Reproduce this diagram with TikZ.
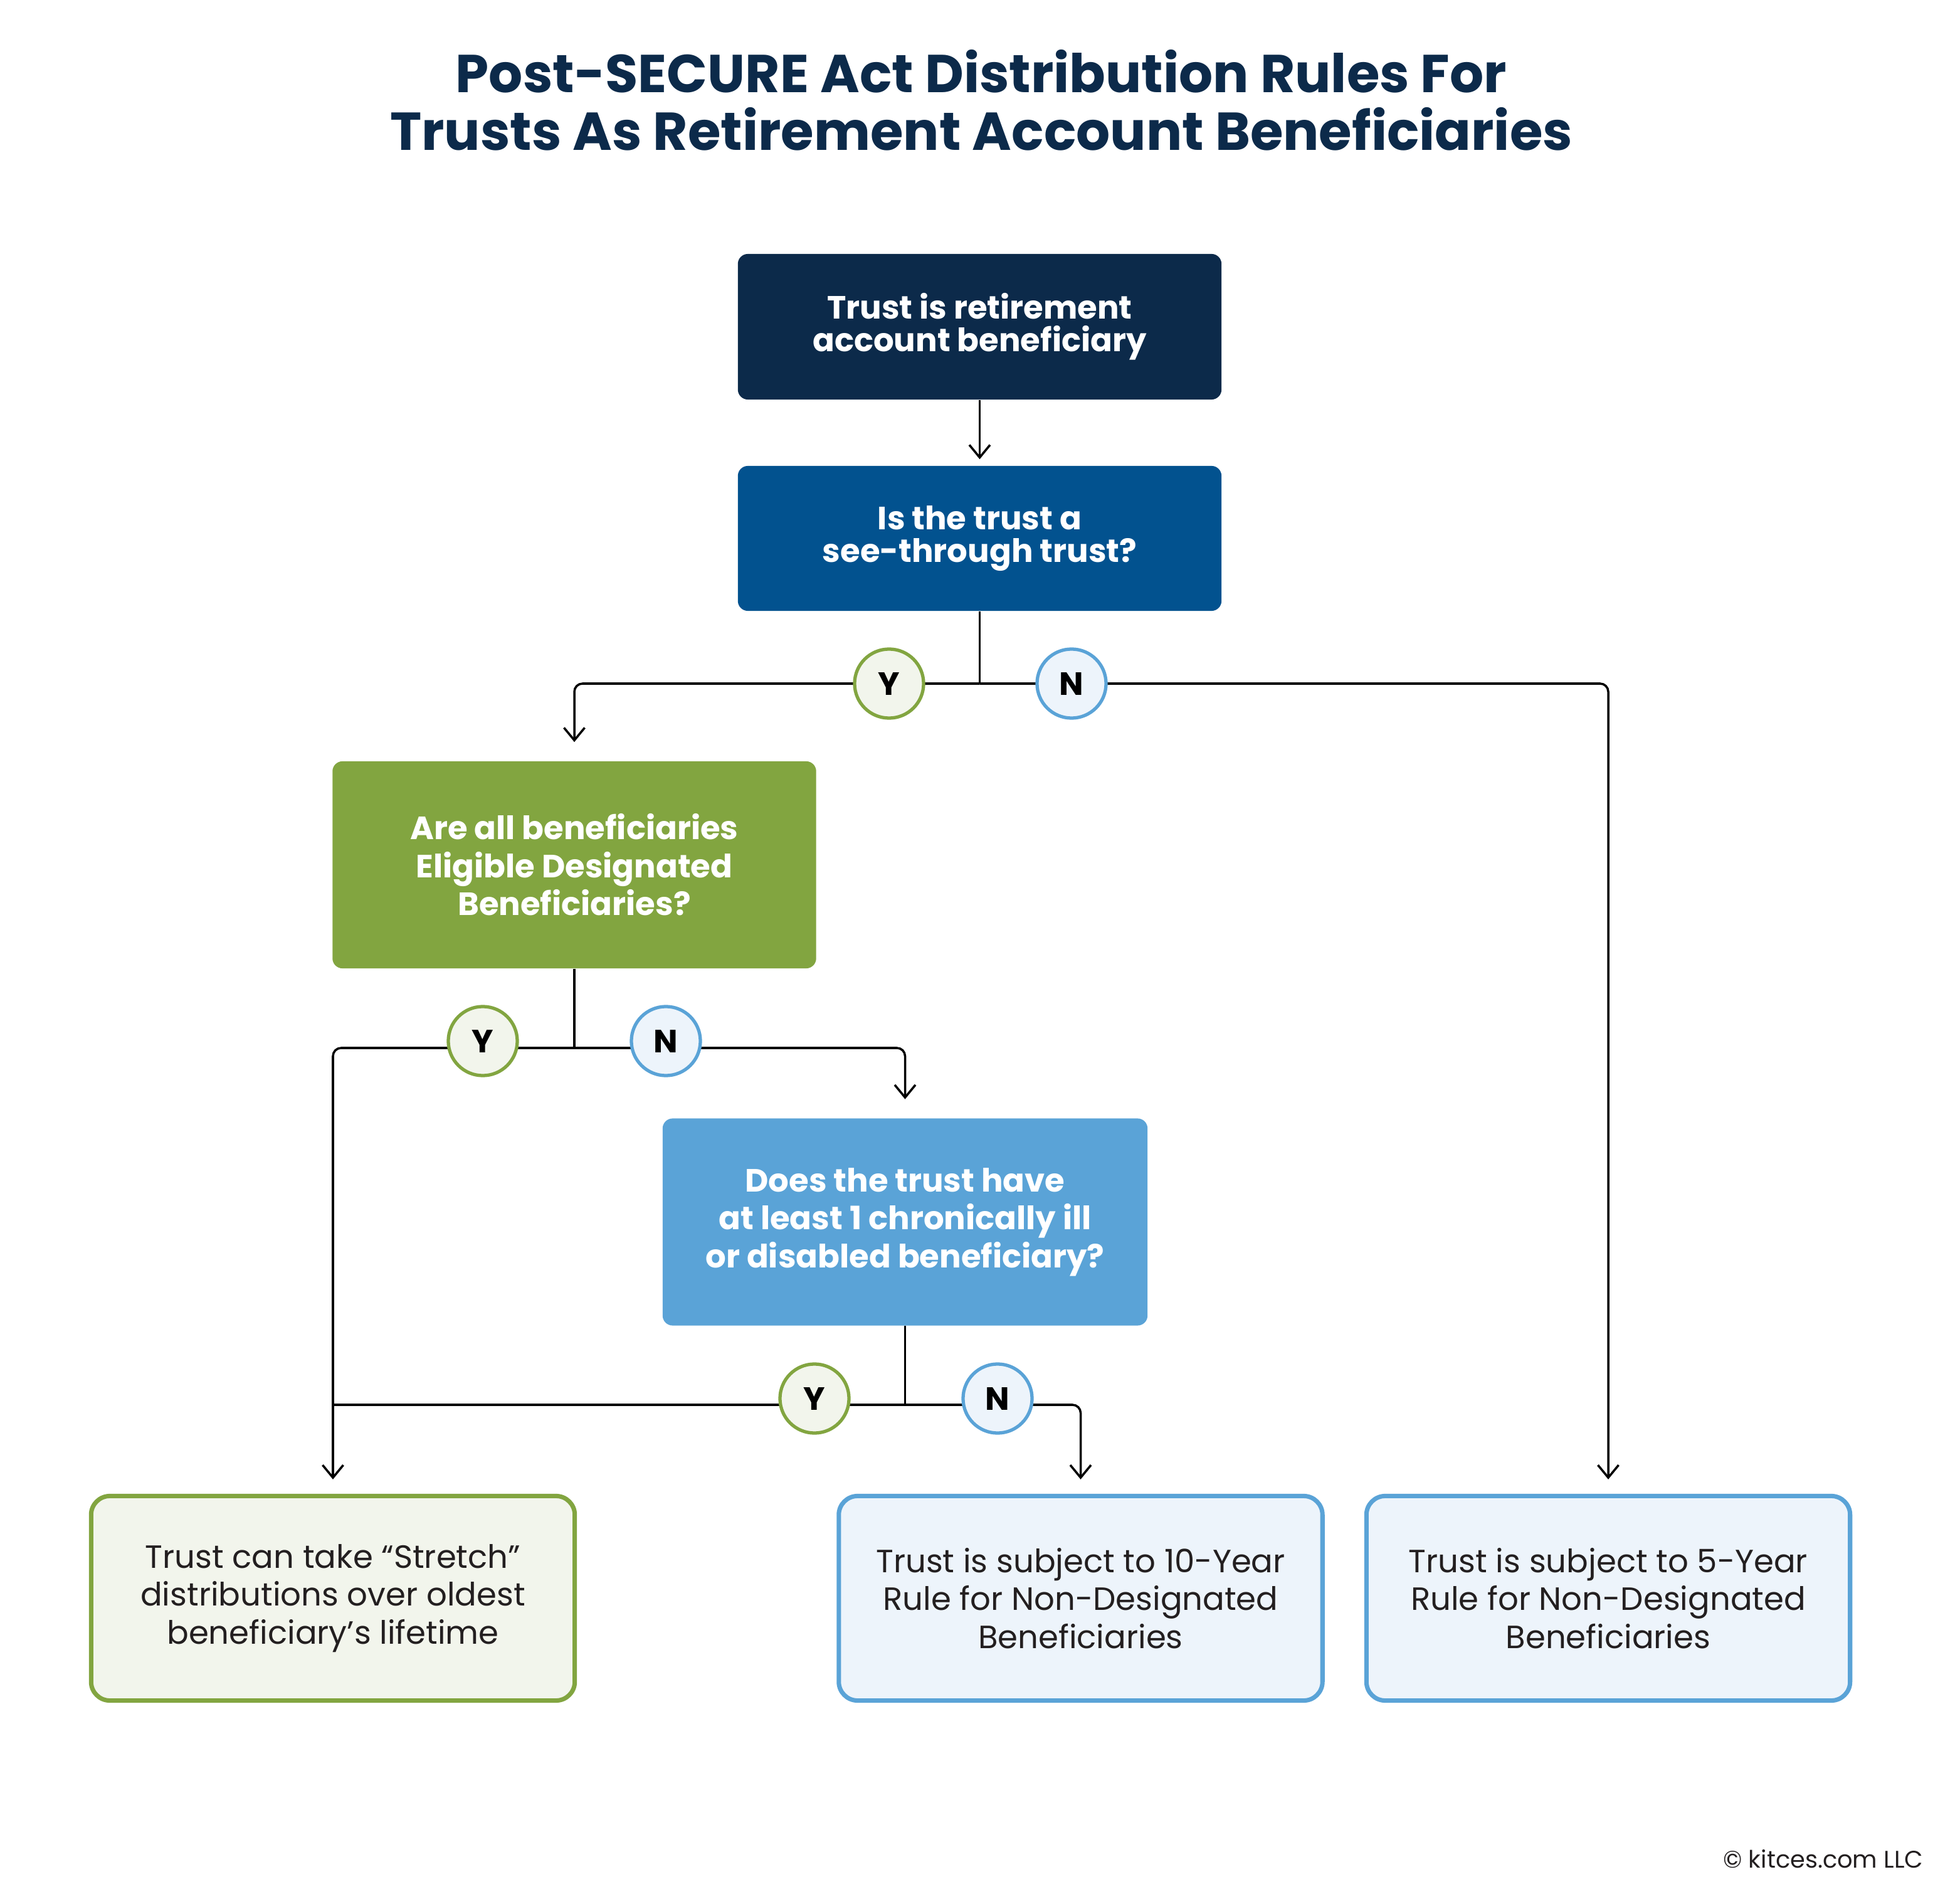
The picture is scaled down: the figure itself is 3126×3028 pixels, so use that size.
\documentclass[tikz,border=0pt]{standalone}
\usepackage{fontspec}
\setmainfont{Poppins}
\usetikzlibrary{arrows.meta}
\definecolor{navy}{HTML}{0C2A4A}
\definecolor{deepblue}{HTML}{02528F}
\definecolor{kgreen}{HTML}{82A540}
\definecolor{kblue}{HTML}{5AA3D7}
\definecolor{kgreenlt}{HTML}{F2F5EC}
\definecolor{kbluelt}{HTML}{EDF4FB}
\definecolor{textdark}{HTML}{231F20}
\pgfdeclarelayer{background}
\pgfsetlayers{background,main}
\tikzset{
  solidbox/.style={rectangle, rounded corners=0.16cm, minimum width=7.71cm, inner sep=0pt,
    text=white, align=center, font=\bfseries\fontsize{14.6}{14.8}\selectfont},
  tallbox/.style={solidbox, minimum height=3.30cm, font=\bfseries\fontsize{14.6}{17.2}\selectfont},
  endbox/.style={rectangle, rounded corners=0.3cm, line width=2pt, minimum width=7.71cm,
    minimum height=3.26cm, inner sep=0pt, text=textdark, align=center,
    font=\fontsize{14.6}{17.2}\selectfont},
  yesc/.style={circle, draw=kgreen, fill=kgreenlt, line width=1.5pt, minimum size=1.10cm,
    inner sep=0pt, text=black, font=\bfseries\fontsize{14.6}{14.6}\selectfont},
  noc/.style={yesc, draw=kblue, fill=kbluelt},
  conn/.style={line width=1pt, rounded corners=0.13cm},
  arr/.style={conn, -{Straight Barb[length=5.7pt,width=9.4pt,line width=1pt]}}
}
\begin{document}
\begin{tikzpicture}[x=0.01cm,y=-0.01cm]
\useasboundingbox (0,0) rectangle (3126,3028);

\node[text=navy, align=center, font=\bfseries\fontsize{24.2}{26.2}\selectfont] (title) at (1565,160)
  {Post-SECURE Act Distribution Rules For\\Trusts As Retirement Account Beneficiaries};

\node[solidbox, fill=navy, minimum height=2.32cm] (b1) at (1562.5,521)
  {Trust is retirement\\account beneficiary};
\node[solidbox, fill=deepblue, minimum height=2.31cm] (b2) at (1562.5,858.5)
  {Is the trust a\\see-through trust?};
\node[tallbox, fill=kgreen] (b3) at (916,1379)
  {Are all beneficiaries\\Eligible Designated\\Beneficiaries?};
\node[tallbox, fill=kblue, minimum width=7.73cm] (b4) at (1443.5,1948.5)
  {Does the trust have\\at least 1 chronically ill\\or disabled beneficiary?};

\node[endbox, draw=kgreen, fill=kgreenlt] (b5) at (531,2548.5)
  {Trust can take “Stretch”\\distributions over oldest\\beneficiary’s lifetime};
\node[endbox, draw=kblue, fill=kbluelt] (b6) at (1723.5,2548.5)
  {Trust is subject to 10-Year\\Rule for Non-Designated\\Beneficiaries};
\node[endbox, draw=kblue, fill=kbluelt] (b7) at (2565,2548.5)
  {Trust is subject to 5-Year\\Rule for Non-Designated\\Beneficiaries};

\node[yesc] (y1) at (1418,1090) {Y};
\node[noc]  (n1) at (1709,1090) {N};
\node[yesc] (y2) at (770,1660) {Y};
\node[noc]  (n2) at (1062,1660) {N};
\node[yesc] (y3) at (1299,2230) {Y};
\node[noc]  (n3) at (1591,2230) {N};

\coordinate (j1) at (1562.5,1090);
\coordinate (j2) at (916,1671);
\coordinate (j3) at (1443.5,2240);
\coordinate (m3) at (b5.north |- j3);

\begin{pgfonlayer}{background}
\fill[white] (0,0) rectangle (3126,3028);
\draw[arr, shorten >=0.1cm] (b1) -- (b2);

\draw[conn] (b2) -- (j1);
\draw[arr, shorten >=0.3cm] (j1) -| (b3);
\draw[arr, shorten >=0.23cm] (j1) -| (b7);

\draw[conn] (b3) -- (j2);
\draw[arr, shorten >=0.23cm] (j2) -| (b5);
\draw[arr, shorten >=0.3cm] (j2) -| (b4);

\draw[conn] (b4) -- (j3);
\draw[conn] (j3) -- (m3);
\draw[arr, shorten >=0.23cm] (j3) -| (b6);
\end{pgfonlayer}

\node[anchor=base east, inner sep=0pt, text=textdark, font=\fontsize{10.9}{12}\selectfont] (copy) at (3068,2978)
  {© kitces.com LLC};
\end{tikzpicture}
\end{document}
